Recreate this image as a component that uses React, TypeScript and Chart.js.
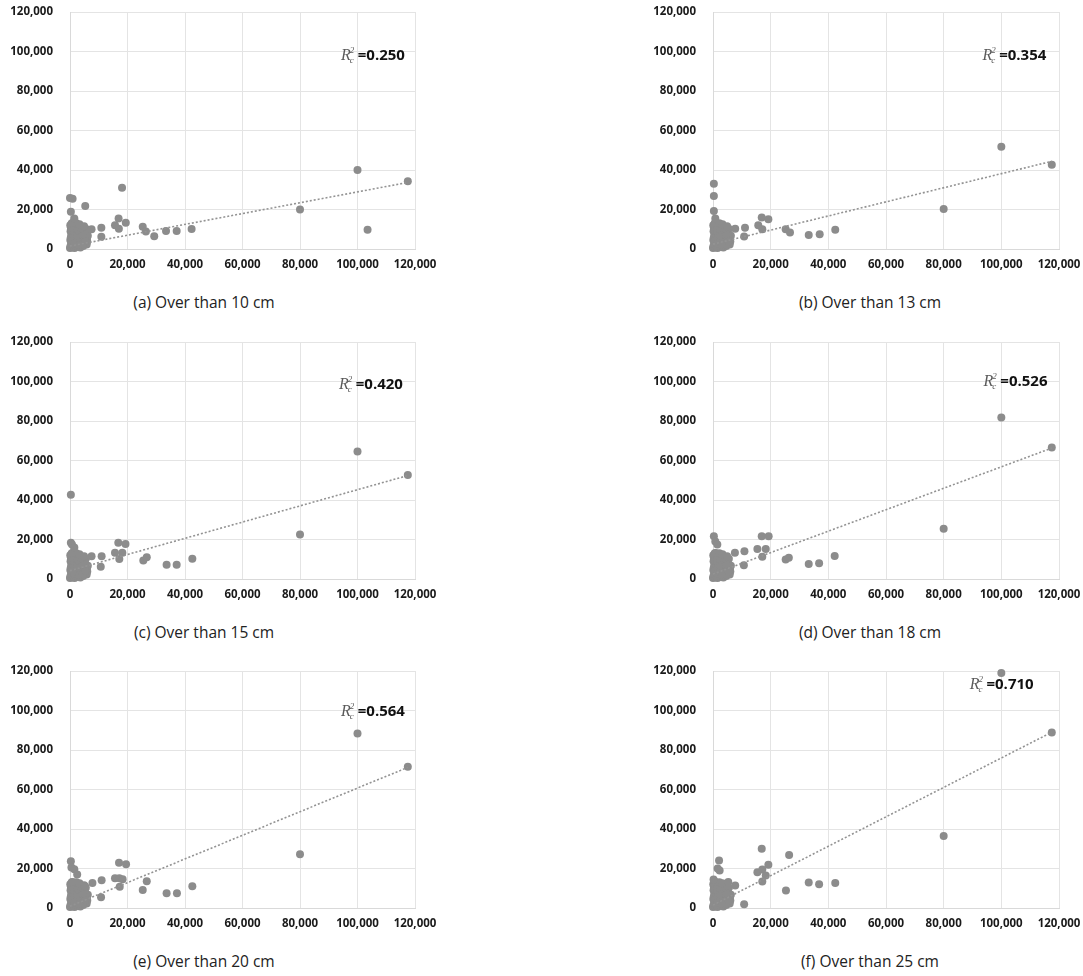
import React, { useEffect, useRef } from "react";
import Chart from "chart.js/auto";

// ---------- data ----------
const X_TICKS = [0, 20000, 40000, 60000, 80000, 100000, 120000];
const Y_TICKS = [0, 20000, 40000, 60000, 80000, 100000, 120000];

// dense cluster of small observations shared by all panels
const CLUSTER_X = [0, 200, 400, 100, 300, 500, 200, 400, 100, 600, 800, 1000, 900, 1200, 1100, 1300, 1000, 1400, 1200, 1600, 1800, 1700, 2000, 1900, 2100, 2300, 2000, 2400, 2600, 2800, 2700, 3000, 3100, 2900, 3200, 3400, 3600, 3800, 3700, 4000, 4100, 3900, 4300, 4600, 4800, 4700, 5000, 5200, 5100, 5500, 5800, 6000, 5900, 6200, 300, 700, 1500, 2500, 3300, 4400, 5300, 700, 1500, 2500, 3500, 4500, 600, 1600, 2700, 3800, 900, 2200, 3300, 4900];
const CLUSTER_Y = [500, 1500, 3000, 4500, 6000, 7500, 9000, 10500, 12000, 13000, 800, 2200, 3600, 5200, 6800, 8200, 9800, 11200, 12600, 500, 1900, 3300, 4700, 6200, 7700, 9100, 10600, 12000, 1200, 2600, 4100, 5500, 7000, 8500, 10000, 11400, 700, 2100, 3700, 5000, 6400, 7900, 9300, 1500, 3000, 4400, 5900, 7200, 8600, 10200, 2300, 3800, 5300, 6700, 11000, 4000, 2800, 3500, 2000, 2500, 4000, 9500, 8800, 7000, 8800, 7500, 11800, 11000, 9800, 10500, 13200, 13000, 12500, 11500];

const A_X = [0, 900, 300, 1500, 5300, 7500, 10900, 10900, 15650, 16900, 17000, 18100, 19400, 25300, 26400, 29300, 33400, 37100, 42300, 80000, 100000, 103500, 117500];
const A_Y = [25800, 25500, 18900, 15500, 21800, 10000, 10800, 6200, 12000, 15500, 10300, 31000, 13300, 11300, 8800, 6400, 9100, 9100, 10100, 20000, 40000, 9800, 34300];

const B_X = [300, 300, 300, 800, 7700, 10800, 11100, 15700, 16900, 17100, 19200, 25200, 26700, 33200, 37000, 42400, 80000, 100000, 117500];
const B_Y = [33100, 26800, 19300, 15500, 10300, 6300, 10800, 12000, 15900, 10000, 15100, 10000, 8300, 7100, 7500, 9700, 20200, 51800, 42700];

const C_X = [300, 300, 700, 1500, 7500, 10700, 11000, 15650, 16800, 17150, 18200, 19300, 25500, 26700, 33600, 37100, 42550, 80000, 100000, 117500];
const C_Y = [42700, 18300, 17500, 16000, 11500, 6200, 11500, 13300, 18300, 10100, 13300, 17750, 9400, 10950, 7250, 7250, 10300, 22500, 64500, 52700];

const D_X = [300, 800, 1500, 7600, 10700, 10900, 15400, 16900, 17100, 18300, 19300, 25200, 26300, 33200, 36800, 42200, 80000, 100000, 117500];
const D_Y = [21600, 19000, 17500, 13300, 6900, 14000, 15200, 21600, 11300, 15200, 21700, 9900, 10800, 7600, 8000, 11700, 25400, 81800, 66600];

const E_X = [300, 500, 1500, 2500, 5200, 7800, 10800, 11000, 15650, 17050, 17150, 17300, 18300, 19500, 25300, 26700, 33600, 37200, 42550, 80000, 100000, 117500];
const E_Y = [23700, 20500, 19600, 17000, 11000, 12700, 5400, 14100, 15100, 22900, 15100, 10700, 14600, 22200, 9100, 13600, 7500, 7500, 11000, 27200, 88300, 71500];

const F_X = [200, 1600, 2100, 2300, 5300, 7700, 10800, 15400, 16900, 17100, 17100, 18300, 19200, 25300, 26400, 33200, 36800, 42400, 80000, 100000, 117500];
const F_Y = [14400, 20000, 24100, 19000, 13200, 11400, 1900, 18100, 30000, 19500, 13400, 16500, 21900, 8800, 26800, 12900, 12000, 12700, 36500, 119000, 88800];

// linear trend lines: y at x = 0 and at x = 117,500
const TREND_X = [0, 117500];
const TREND_A = [1500, 33700];
const TREND_B = [2440, 44400];
const TREND_C = [4200, 52400];
const TREND_D = [2500, 66300];
const TREND_E = [900, 71200];
const TREND_F = [1460, 89000];

const R2_VALUES = ["0.250", "0.354", "0.420", "0.526", "0.564", "0.710"];
const CAPTIONS = [
  "(a) Over than 10 cm",
  "(b) Over than 13 cm",
  "(c) Over than 15 cm",
  "(d) Over than 18 cm",
  "(e) Over than 20 cm",
  "(f) Over than 25 cm",
];

// ---------- layout (not data) ----------
type Layout = { left: number; top: number; width: number; yw: number; capX: number; capY: number; annX: number; annY: number };
const LAYOUTS: Layout[] = [
  { left: 0, top: 0, width: 460, yw: 70, capX: 204, capY: 302, annX: 116500, annY: 98200 },
  { left: 640, top: 0, width: 464, yw: 73, capX: 870, capY: 302, annX: 115600, annY: 98200 },
  { left: 0, top: 330, width: 460, yw: 70, capX: 204, capY: 632, annX: 115800, annY: 98600 },
  { left: 640, top: 330, width: 464, yw: 73, capX: 870, capY: 632, annX: 116000, annY: 100200 },
  { left: 0, top: 659, width: 460, yw: 70, capX: 204, capY: 961, annX: 116500, annY: 100000 },
  { left: 640, top: 659, width: 464, yw: 73, capX: 870, capY: 961, annX: 111200, annY: 113200 },
];

const SERIES = [
  { xs: A_X, ys: A_Y, trend: TREND_A },
  { xs: B_X, ys: B_Y, trend: TREND_B },
  { xs: C_X, ys: C_Y, trend: TREND_C },
  { xs: D_X, ys: D_Y, trend: TREND_D },
  { xs: E_X, ys: E_Y, trend: TREND_E },
  { xs: F_X, ys: F_Y, trend: TREND_F },
];

const PLOT_TOP = 12;
const PLOT_H = 237;
const XAXIS_H = 28;
const CANVAS_H = PLOT_TOP + PLOT_H + XAXIS_H;
const TICK_FONT = { family: "'Open Sans', 'Noto Sans', sans-serif", size: 11.5, weight: "bold" as const };

function Panel({ idx }: { idx: number }) {
  const ref = useRef<HTMLCanvasElement | null>(null);
  const lay = LAYOUTS[idx];
  const s = SERIES[idx];
  useEffect(() => {
    if (!ref.current) return;
    const pts = CLUSTER_X.map((x, i) => ({ x, y: CLUSTER_Y[i] })).concat(s.xs.map((x, i) => ({ x, y: s.ys[i] })));
    const trend = TREND_X.map((x, i) => ({ x, y: s.trend[i] }));
    const r2 = R2_VALUES[idx];
    const annot = {
      id: "r2label",
      afterDatasetsDraw(chart: any) {
        const ctx = chart.ctx as CanvasRenderingContext2D;
        const xr = chart.scales.x.getPixelForValue(lay.annX);
        const yc = chart.scales.y.getPixelForValue(lay.annY);
        ctx.save();
        ctx.textBaseline = "alphabetic";
        const eq = "=" + r2;
        ctx.font = "bold 15px 'Open Sans', 'Noto Sans', sans-serif";
        const eqW = ctx.measureText(eq).width;
        ctx.font = "italic 16px 'Liberation Serif', 'DejaVu Serif', serif";
        const rW = ctx.measureText("R").width;
        const subW = 7;
        const x0 = xr - eqW - subW - rW;
        const base = yc + 5;
        ctx.fillStyle = "#5a5a5a";
        ctx.fillText("R", x0, base);
        ctx.font = "italic 9px 'Liberation Serif', 'DejaVu Serif', serif";
        ctx.fillText("2", x0 + rW - 1, base - 7);
        ctx.fillText("c", x0 + rW - 1, base + 3);
        ctx.font = "bold 15px 'Open Sans', 'Noto Sans', sans-serif";
        ctx.fillStyle = "#111";
        ctx.fillText(eq, x0 + rW + subW, base);
        ctx.restore();
      },
    };
    const chart = new Chart(ref.current, {
      type: "scatter",
      data: {
        datasets: [
          {
            type: "line" as any,
            data: trend,
            borderColor: "#939393",
            borderWidth: 1.6,
            borderDash: [2, 2],
            pointRadius: 0,
            fill: false,
            showLine: true,
          } as any,
          {
            data: pts,
            backgroundColor: "#8c8c8c",
            borderColor: "#8c8c8c",
            borderWidth: 0,
            pointRadius: 4,
            clip: false,
          } as any,
        ],
      },
      options: {
        responsive: false,
        animation: false,
        devicePixelRatio: 1,
        layout: { padding: { top: PLOT_TOP, right: 45, bottom: 0, left: 0 } },
        plugins: { legend: { display: false }, tooltip: { enabled: false }, title: { display: false } },
        scales: {
          x: {
            type: "linear",
            min: 0,
            max: 120000,
            afterBuildTicks: (sc: any) => {
              sc.ticks = X_TICKS.map((v) => ({ value: v }));
            },
            afterFit: (sc: any) => {
              sc.height = XAXIS_H;
              sc.paddingLeft = 0;
              sc.paddingRight = 0;
              sc.paddingTop = 0;
              sc.paddingBottom = 0;
            },
            grid: { color: "#e4e4e4", drawTicks: false, lineWidth: 1 },
            border: { color: "#d9d9d9" },
            ticks: {
              padding: 9,
              color: "#1a1a1a",
              font: TICK_FONT,
              autoSkip: false,
              maxRotation: 0,
              callback: (v: any) => Number(v).toLocaleString("en-US"),
            },
          },
          y: {
            type: "linear",
            min: 0,
            max: 120000,
            afterBuildTicks: (sc: any) => {
              sc.ticks = Y_TICKS.map((v) => ({ value: v }));
            },
            afterFit: (sc: any) => {
              sc.width = lay.yw;
              sc.paddingLeft = 0;
              sc.paddingRight = 0;
              sc.paddingTop = 0;
              sc.paddingBottom = 0;
            },
            grid: { color: "#e4e4e4", drawTicks: false, lineWidth: 1 },
            border: { color: "#d9d9d9" },
            ticks: {
              padding: 17,
              color: "#1a1a1a",
              font: TICK_FONT,
              autoSkip: false,
              callback: (v: any) => Number(v).toLocaleString("en-US"),
            },
          },
        },
      } as any,
      plugins: [annot],
    });
    return () => chart.destroy();
  }, [idx]);
  return (
    <>
      <canvas
        ref={ref}
        width={lay.width}
        height={CANVAS_H}
        style={{ position: "absolute", left: lay.left, top: lay.top, width: lay.width, height: CANVAS_H }}
      />
      <div
        style={{
          position: "absolute",
          left: lay.capX - 150,
          top: lay.capY - 11,
          width: 300,
          height: 22,
          lineHeight: "22px",
          textAlign: "center",
          fontFamily: "'Open Sans', 'Noto Sans', sans-serif",
          fontSize: 15.5,
          color: "#222",
        }}
      >
        {CAPTIONS[idx]}
      </div>
    </>
  );
}

export default function App() {
  return (
    <div style={{ position: "absolute", left: 0, top: 0, width: 1083, height: 976, background: "#fff", overflow: "hidden" }}>
      {[0, 1, 2, 3, 4, 5].map((i) => (
        <Panel key={i} idx={i} />
      ))}
    </div>
  );
}
